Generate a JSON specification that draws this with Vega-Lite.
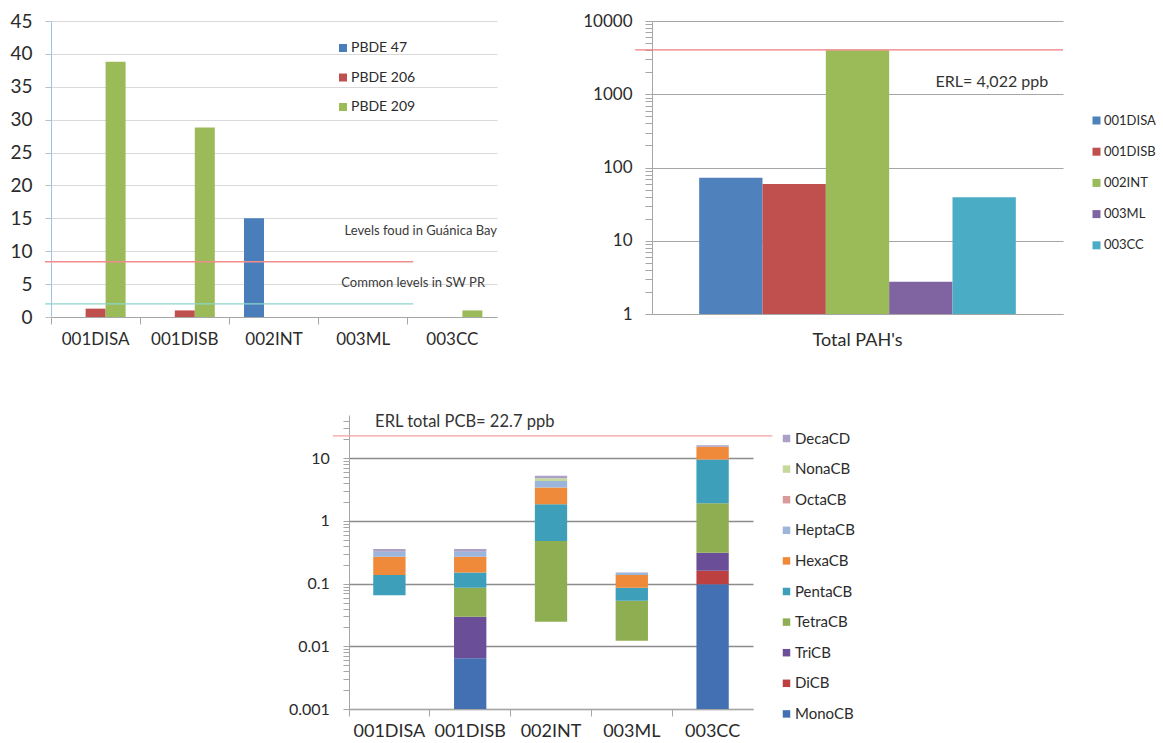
{
  "$schema": "https://vega.github.io/schema/vega-lite/v6.json",
  "background": "white",
  "padding": {"left": 0, "top": 12, "right": 0, "bottom": 0},
  "config": {
    "view": {"stroke": null},
    "font": "Lato",
    "axis": {"labelFont": "Lato", "labelColor": "#2b2b2b", "domainColor": "#A6A6A6", "tickColor": "#A6A6A6", "title": null},
    "legend": {"labelFont": "Lato", "labelColor": "#2b2b2b"},
    "text": {"font": "Lato"}
  },
  "datasets": {
    "pbde": [
      {"site": "001DISA", "congener": "PBDE 206", "value": 1.27},
      {"site": "001DISA", "congener": "PBDE 209", "value": 38.8},
      {"site": "001DISB", "congener": "PBDE 206", "value": 1.0},
      {"site": "001DISB", "congener": "PBDE 209", "value": 28.8},
      {"site": "002INT", "congener": "PBDE 47", "value": 15.0},
      {"site": "003CC", "congener": "PBDE 209", "value": 1.0}
    ],
    "pah": [
      {"group": "Total PAH's", "site": "001DISA", "value": 72.6},
      {"group": "Total PAH's", "site": "001DISB", "value": 59.6},
      {"group": "Total PAH's", "site": "002INT", "value": 3985},
      {"group": "Total PAH's", "site": "003ML", "value": 2.75},
      {"group": "Total PAH's", "site": "003CC", "value": 39.3}
    ],
    "pcb": [
      {"site": "001DISA", "congener": "PentaCB", "lo": 0.065, "hi": 0.137},
      {"site": "001DISA", "congener": " HexaCB", "lo": 0.137, "hi": 0.269},
      {"site": "001DISA", "congener": "HeptaCB", "lo": 0.269, "hi": 0.323},
      {"site": "001DISA", "congener": "DecaCD", "lo": 0.323, "hi": 0.356},
      {"site": "001DISB", "congener": "MonoCB", "lo": 0.001, "hi": 0.00645},
      {"site": "001DISB", "congener": "TriCB", "lo": 0.00645, "hi": 0.0297},
      {"site": "001DISB", "congener": "TetraCB", "lo": 0.0297, "hi": 0.0861},
      {"site": "001DISB", "congener": "PentaCB", "lo": 0.0861, "hi": 0.151},
      {"site": "001DISB", "congener": " HexaCB", "lo": 0.151, "hi": 0.269},
      {"site": "001DISB", "congener": "HeptaCB", "lo": 0.269, "hi": 0.323},
      {"site": "001DISB", "congener": "DecaCD", "lo": 0.323, "hi": 0.356},
      {"site": "002INT", "congener": "TetraCB", "lo": 0.0247, "hi": 0.478},
      {"site": "002INT", "congener": "PentaCB", "lo": 0.478, "hi": 1.84},
      {"site": "002INT", "congener": " HexaCB", "lo": 1.84, "hi": 3.43},
      {"site": "002INT", "congener": "HeptaCB", "lo": 3.43, "hi": 4.33},
      {"site": "002INT", "congener": "NonaCB", "lo": 4.33, "hi": 4.78},
      {"site": "002INT", "congener": "DecaCD", "lo": 4.78, "hi": 5.26},
      {"site": "003ML", "congener": "TetraCB", "lo": 0.0123, "hi": 0.0533},
      {"site": "003ML", "congener": "PentaCB", "lo": 0.0533, "hi": 0.0861},
      {"site": "003ML", "congener": " HexaCB", "lo": 0.0861, "hi": 0.137},
      {"site": "003ML", "congener": "HeptaCB", "lo": 0.137, "hi": 0.151},
      {"site": "003CC", "congener": "MonoCB", "lo": 0.001, "hi": 0.0975},
      {"site": "003CC", "congener": "DiCB", "lo": 0.0975, "hi": 0.161},
      {"site": "003CC", "congener": "TriCB", "lo": 0.161, "hi": 0.311},
      {"site": "003CC", "congener": "TetraCB", "lo": 0.311, "hi": 1.91},
      {"site": "003CC", "congener": "PentaCB", "lo": 1.91, "hi": 9.6},
      {"site": "003CC", "congener": " HexaCB", "lo": 9.6, "hi": 15.2},
      {"site": "003CC", "congener": "DecaCD", "lo": 15.2, "hi": 16.2}
    ]
  },
  "spacing": 63,
  "resolve": {
    "scale": {"color": "independent", "x": "independent", "y": "independent", "xOffset": "independent"},
    "legend": {"color": "independent"},
    "axis": {"x": "independent", "y": "independent"}
  },
  "vconcat": [
    {
      "spacing": 80,
      "resolve": {
        "scale": {"color": "independent", "x": "independent", "y": "independent", "xOffset": "independent"},
        "legend": {"color": "independent"},
        "axis": {"x": "independent", "y": "independent"}
      },
      "hconcat": [
        {
          "width": 446,
          "height": 296,
          "resolve": {"scale": {"x": "independent"}},
          "layer": [
            {
              "data": {"name": "pbde"},
              "mark": {"type": "bar"},
              "encoding": {
                "x": {
                  "field": "site", "type": "nominal",
                  "scale": {"domain": ["001DISA", "001DISB", "002INT", "003ML", "003CC"], "paddingInner": 0, "paddingOuter": 0},
                  "axis": {"labelFontSize": 17, "labelAngle": 0, "bandPosition": 0, "tickSize": 7, "labelPadding": 7, "grid": false}
                },
                "xOffset": {
                  "field": "congener", "type": "nominal",
                  "scale": {"domain": ["PBDE 47", "PBDE 206", "PBDE 209"], "paddingInner": 0, "paddingOuter": 0.73}
                },
                "y": {
                  "field": "value", "type": "quantitative",
                  "scale": {"domain": [0, 45], "nice": false},
                  "axis": {"values": [0, 5, 10, 15, 20, 25, 30, 35, 40, 45], "labelOverlap": false, "grid": true, "gridColor": "#D9D9D9", "domainColor": "#9DC3E6", "tickColor": "#BFBFBF", "tickSize": 6, "labelFontSize": 19, "labelPadding": 13, "minExtent": 51}
                },
                "color": {
                  "field": "congener", "type": "nominal",
                  "scale": {"domain": ["PBDE 47", "PBDE 206", "PBDE 209"], "range": ["#4A7EBB", "#C0504D", "#9BBB59"]},
                  "legend": {"title": null, "orient": "none", "legendX": 285, "legendY": 20, "symbolType": "square", "symbolSize": 64, "symbolStrokeWidth": 0, "labelFontSize": 14, "rowPadding": 15.5, "labelOffset": 1, "padding": 0}
                }
              }
            },
            {
              "data": {"values": [{}]},
              "mark": {"type": "rule", "color": "#F28B8B", "strokeWidth": 1.3},
              "encoding": {
                "x": {"datum": -0.067, "type": "quantitative", "scale": {"domain": [0, 5]}, "axis": null},
                "x2": {"datum": 4.06},
                "y": {"datum": 8.4, "type": "quantitative", "axis": {"values": [0, 5, 10, 15, 20, 25, 30, 35, 40, 45], "labelOverlap": false, "grid": true, "gridColor": "#D9D9D9", "domainColor": "#9DC3E6", "tickColor": "#BFBFBF", "tickSize": 6, "labelFontSize": 19, "labelPadding": 13, "minExtent": 51}}
              }
            },
            {
              "data": {"values": [{}]},
              "mark": {"type": "rule", "color": "#8ED4CB", "strokeWidth": 1.3},
              "encoding": {
                "x": {"datum": -0.067, "type": "quantitative", "scale": {"domain": [0, 5]}, "axis": null},
                "x2": {"datum": 4.06},
                "y": {"datum": 2.0, "type": "quantitative", "axis": {"values": [0, 5, 10, 15, 20, 25, 30, 35, 40, 45], "labelOverlap": false, "grid": true, "gridColor": "#D9D9D9", "domainColor": "#9DC3E6", "tickColor": "#BFBFBF", "tickSize": 6, "labelFontSize": 19, "labelPadding": 13, "minExtent": 51}}
              }
            },
            {
              "data": {"values": [{}]},
              "mark": {"type": "text", "text": "Levels foud in Guánica Bay", "align": "right", "baseline": "middle", "fontSize": 13, "color": "#3a3a3a"},
              "encoding": {
                "x": {"datum": 5, "type": "quantitative", "scale": {"domain": [0, 5]}, "axis": null},
                "y": {"datum": 13.1, "type": "quantitative", "axis": {"values": [0, 5, 10, 15, 20, 25, 30, 35, 40, 45], "labelOverlap": false, "grid": true, "gridColor": "#D9D9D9", "domainColor": "#9DC3E6", "tickColor": "#BFBFBF", "tickSize": 6, "labelFontSize": 19, "labelPadding": 13, "minExtent": 51}}
              }
            },
            {
              "data": {"values": [{}]},
              "mark": {"type": "text", "text": "Common levels in SW PR", "align": "center", "baseline": "middle", "fontSize": 13, "color": "#3a3a3a"},
              "encoding": {
                "x": {"datum": 4.06, "type": "quantitative", "scale": {"domain": [0, 5]}, "axis": null},
                "y": {"datum": 5.2, "type": "quantitative", "axis": {"values": [0, 5, 10, 15, 20, 25, 30, 35, 40, 45], "labelOverlap": false, "grid": true, "gridColor": "#D9D9D9", "domainColor": "#9DC3E6", "tickColor": "#BFBFBF", "tickSize": 6, "labelFontSize": 19, "labelPadding": 13, "minExtent": 51}}
              }
            }
          ]
        },
        {
          "width": 411,
          "height": 293,
          "resolve": {"scale": {"x": "independent"}},
          "layer": [
            {
              "data": {"name": "pah"},
              "mark": {"type": "bar"},
              "encoding": {
                "x": {
                  "field": "group", "type": "nominal",
                  "scale": {"paddingInner": 0, "paddingOuter": 0.149},
                  "axis": {"labelFontSize": 18, "labelAngle": 0, "ticks": false, "tickSize": 0, "labelPadding": 17}
                },
                "xOffset": {
                  "field": "site", "type": "nominal",
                  "scale": {"domain": ["001DISA", "001DISB", "002INT", "003ML", "003CC"], "paddingInner": 0, "paddingOuter": 0}
                },
                "y": {
                  "field": "value", "type": "quantitative",
                  "scale": {"type": "log", "domain": [1, 10000], "nice": false},
                  "axis": {
                    "values": [1, 2, 3, 4, 5, 6, 7, 8, 9, 10, 20, 30, 40, 50, 60, 70, 80, 90, 100, 200, 300, 400, 500, 600, 700, 800, 900, 1000, 2000, 3000, 4000, 5000, 6000, 7000, 8000, 9000, 10000],
                    "labelExpr": "indexof([1,10,100,1000,10000], datum.value) >= 0 ? format(datum.value, '~g') : ''",
                    "labelOverlap": false,
                    "grid": true,
                    "gridColor": "#A6A6A6",
                    "gridOpacity": {"condition": {"test": "indexof([1,10,100,1000,10000], datum.value) < 0", "value": 0}, "value": 1},
                    "tickSize": 7, "labelFontSize": 17, "labelPadding": 13, "minExtent": 75
                  }
                },
                "y2": {"datum": 1},
                "color": {
                  "field": "site", "type": "nominal",
                  "scale": {"domain": ["001DISA", "001DISB", "002INT", "003ML", "003CC"], "range": ["#4F81BD", "#C0504D", "#9BBB59", "#8064A2", "#4BACC6"]},
                  "legend": {"title": null, "orient": "none", "legendX": 438, "legendY": 93, "symbolType": "square", "symbolSize": 64, "symbolStrokeWidth": 0, "labelFontSize": 13, "rowPadding": 17.2, "labelOffset": 1, "padding": 0}
                }
              }
            },
            {
              "data": {"values": [{}]},
              "mark": {"type": "rule", "color": "#EE7B7E", "strokeWidth": 1.3},
              "encoding": {
                "x": {"datum": -0.041, "type": "quantitative", "scale": {"domain": [0, 1]}, "axis": null},
                "x2": {"datum": 1},
                "y": {"datum": 4022, "type": "quantitative"}
              }
            },
            {
              "data": {"values": [{}]},
              "mark": {"type": "text", "text": "ERL= 4,022 ppb", "align": "left", "baseline": "middle", "fontSize": 16, "color": "#333333"},
              "encoding": {
                "x": {"datum": 0.69, "type": "quantitative", "scale": {"domain": [0, 1]}, "axis": null},
                "y": {"datum": 1475, "type": "quantitative"}
              }
            }
          ]
        }
      ]
    },
    {
      "spacing": 0,
      "resolve": {
        "scale": {"color": "independent", "x": "independent", "y": "independent"},
        "axis": {"x": "independent", "y": "independent"}
      },
      "hconcat": [
        {
          "width": 234,
          "height": 294,
          "data": {"values": [{}]},
          "mark": {"type": "text", "text": ""}
        },
        {
          "width": 404,
          "height": 294,
          "resolve": {"scale": {"x": "independent"}},
          "layer": [
            {
              "data": {"name": "pcb"},
              "mark": {"type": "bar", "width": {"band": 0.4}},
              "encoding": {
                "x": {
                  "field": "site", "type": "nominal",
                  "scale": {"domain": ["001DISA", "001DISB", "002INT", "003ML", "003CC"], "paddingInner": 0, "paddingOuter": 0},
                  "axis": {"labelFontSize": 18, "labelAngle": 0, "bandPosition": 0, "tickSize": 7, "labelPadding": 6, "grid": false}
                },
                "y": {
                  "field": "lo", "type": "quantitative",
                  "scale": {"type": "log", "domain": [0.001, 49], "nice": false},
                  "axis": {
                    "values": [0.001, 0.002, 0.003, 0.004, 0.005, 0.006, 0.007, 0.008, 0.009, 0.01, 0.02, 0.03, 0.04, 0.05, 0.06, 0.07, 0.08, 0.09, 0.1, 0.2, 0.3, 0.4, 0.5, 0.6, 0.7, 0.8, 0.9, 1, 2, 3, 4, 5, 6, 7, 8, 9, 10, 20, 30, 40],
                    "labelExpr": "indexof([0.001,0.01,0.1,1,10], datum.value) >= 0 ? format(datum.value, '~g') : ''",
                    "labelOverlap": false,
                    "grid": true,
                    "gridColor": "#8C8C8C",
                    "gridWidth": 1.3,
                    "gridOpacity": {"condition": {"test": "indexof([0.001,0.01,0.1,1,10], datum.value) < 0", "value": 0}, "value": 1},
                    "tickSize": 6, "labelFontSize": 16, "labelPadding": 13.7, "minExtent": 64
                  }
                },
                "y2": {"field": "hi"},
                "color": {
                  "field": "congener", "type": "nominal",
                  "scale": {
                    "domain": ["DecaCD", "NonaCB", "OctaCB", "HeptaCB", " HexaCB", "PentaCB", "TetraCB", "TriCB", "DiCB", "MonoCB"],
                    "range": ["#ABA0C6", "#C5D99B", "#D99A9B", "#9BB5DB", "#EE8A3A", "#3E9FBA", "#8FAE52", "#6A4E98", "#BD4040", "#4270B2"]
                  },
                  "legend": {"title": null, "orient": "none", "legendX": 430, "legendY": 16, "symbolType": "square", "symbolSize": 56, "symbolStrokeWidth": 0, "labelFontSize": 15, "rowPadding": 14.6, "labelOffset": 1, "padding": 0}
                }
              }
            },
            {
              "data": {"values": [{}]},
              "mark": {"type": "rule", "color": "#F4A0A0", "strokeWidth": 1.3},
              "encoding": {
                "x": {"datum": -0.2, "type": "quantitative", "scale": {"domain": [0, 5]}, "axis": null},
                "x2": {"datum": 5.24},
                "y": {"datum": 22.7, "type": "quantitative"}
              }
            },
            {
              "data": {"values": [{}]},
              "mark": {"type": "text", "text": "ERL total PCB= 22.7 ppb", "align": "left", "baseline": "middle", "fontSize": 16.5, "color": "#333333"},
              "encoding": {
                "x": {"datum": 0.323, "type": "quantitative", "scale": {"domain": [0, 5]}, "axis": null},
                "y": {"datum": 38.5, "type": "quantitative"}
              }
            }
          ]
        }
      ]
    }
  ]
}
